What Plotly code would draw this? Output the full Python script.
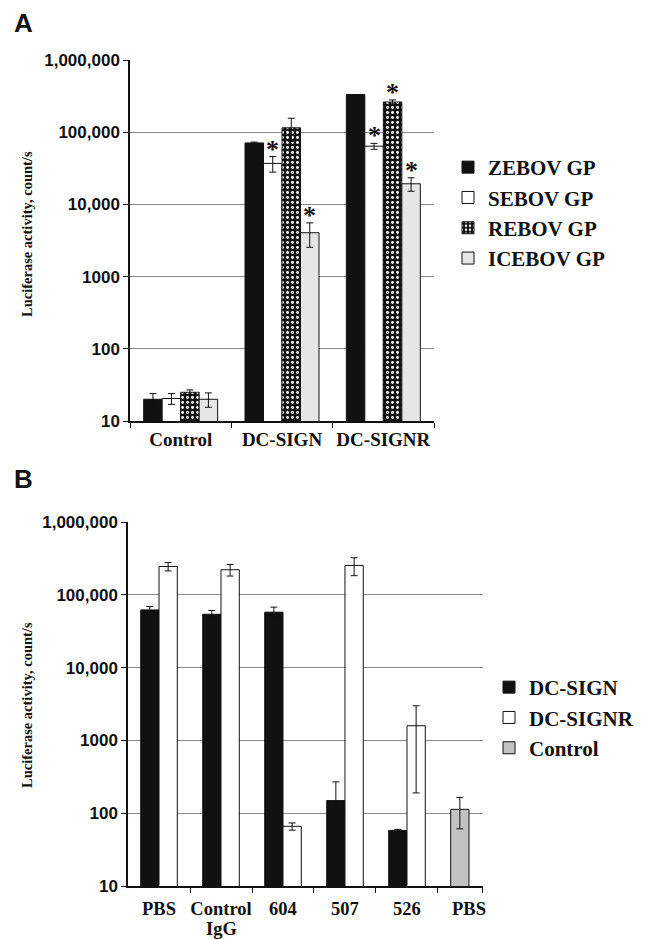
import math
import plotly.graph_objects as go

W, H = 646, 939

# ---------------- Panel A data ----------------
a_categories = ["Control", "DC-SIGN", "DC-SIGNR"]
a_series = ["ZEBOV GP", "SEBOV GP", "REBOV GP", "ICEBOV GP"]
zebov = [20, 71000, 332000]
zebov_err = [4, 2000, 0]
sebov = [20.5, 37000, 64000]
sebov_err = [3.5, 9000, 6000]
rebov = [25, 115000, 262000]
rebov_err = [2, 41000, 18000]
icebov = [20, 4050, 19300]
icebov_err = [4.5, 1500, 4100]
# significance flags (series x category)
a_sig = [
    [False, False, False],
    [False, True, True],
    [False, False, True],
    [False, True, True],
]

# ---------------- Panel B data ----------------
b_categories = ["PBS", "Control\nIgG", "604", "507", "526", "PBS"]
b_series = ["DC-SIGN", "DC-SIGNR", "Control"]
dcsign = [62000, 54000, 57700, 149, 58]
dcsign_err = [7000, 7000, 10000, 120, 2]
dcsignr = [245000, 221000, 66, 253000, 1590]
dcsignr_err = [32000, 40000, 7.5, 70000, 1400]
control = [113]
control_err = [52]

y_tickvals = [10, 100, 1000, 10000, 100000, 1000000]
y_ticktext = ["10", "100", "1000", "10,000", "100,000", "1,000,000"]

SERIF = "Liberation Serif"
SANS = "Liberation Sans"
LINE = "#111111"
GRID = "#8a8a8a"


def px_x(p):
    return p / W


def px_y(p):
    return 1 - p / H


fig = go.Figure()

err_style = dict(type="data", color=LINE, thickness=1, width=3.5)

a_vals = [zebov, sebov, rebov, icebov]
a_errs = [zebov_err, sebov_err, rebov_err, icebov_err]
a_markers = [
    dict(color="#111111", line=dict(color=LINE, width=1)),
    dict(color="#ffffff", line=dict(color=LINE, width=1)),
    dict(color="#111111", line=dict(color=LINE, width=1),
         pattern=dict(shape=".", fgcolor="#ffffff", bgcolor="#111111",
                      size=5, solidity=0.28, fillmode="replace")),
    dict(color="#e6e6e6", line=dict(color=LINE, width=1)),
]
for name, vals, errs, mk in zip(a_series, a_vals, a_errs, a_markers):
    fig.add_trace(go.Bar(
        x=a_categories, y=vals, name=name, marker=mk,
        error_y=dict(array=errs, **err_style),
        xaxis="x", yaxis="y", legend="legend",
    ))

b_colors = ["#111111", "#ffffff", "#c2c2c2"]
b_x_sign = list(range(len(dcsign)))
b_x_ctrl = [len(b_categories) - 1]
fig.add_trace(go.Bar(
    x=b_x_sign, y=dcsign, name="DC-SIGN",
    marker=dict(color=b_colors[0], line=dict(color=LINE, width=1)),
    error_y=dict(array=dcsign_err, **err_style),
    offset=-0.295, width=0.295, xaxis="x2", yaxis="y2", legend="legend2",
))
fig.add_trace(go.Bar(
    x=b_x_sign, y=dcsignr, name="DC-SIGNR",
    marker=dict(color=b_colors[1], line=dict(color=LINE, width=1)),
    error_y=dict(array=dcsignr_err, **err_style),
    offset=0, width=0.295, xaxis="x2", yaxis="y2", legend="legend2",
))
fig.add_trace(go.Bar(
    x=b_x_ctrl, y=control, name="Control",
    marker=dict(color=b_colors[2], line=dict(color=LINE, width=1)),
    error_y=dict(array=control_err, **err_style),
    offset=-0.295, width=0.295, xaxis="x2", yaxis="y2", legend="legend2",
))

yaxis_common = dict(
    type="log", range=[1, 6], tickvals=y_tickvals, ticktext=y_ticktext,
    tickfont=dict(family=SANS, size=17, color=LINE, weight="bold"),
    showline=True, linecolor=LINE, linewidth=1.5, ticks="outside",
    ticklen=5, tickcolor=LINE, showgrid=True, gridcolor=GRID, gridwidth=1,
    zeroline=False, fixedrange=True, automargin=False,
)

# first line of each B label goes on the axis, second line (if any) below it
b_first = [c.split("\n")[0] for c in b_categories]
b_second = [(i, c.split("\n")[1]) for i, c in enumerate(b_categories) if "\n" in c]

bargap = 0.27
fig.update_layout(
    width=W, height=H, margin=dict(l=0, r=0, t=0, b=0, autoexpand=False),
    paper_bgcolor="white", plot_bgcolor="white",
    barmode="group", bargap=bargap, bargroupgap=0,
    xaxis=dict(domain=[px_x(130), px_x(434)], anchor="y", type="category",
               tickson="boundaries", ticks="outside", ticklen=5, tickcolor=LINE,
               showline=True, linecolor=LINE, linewidth=1.5, tickangle=0,
               automargin=False, fixedrange=True,
               tickfont=dict(family=SERIF, size=19, color=LINE, weight="bold"),
               range=[-0.5, 2.5]),
    yaxis=dict(domain=[px_y(421), px_y(60)], anchor="x", **yaxis_common),
    xaxis2=dict(domain=[px_x(128), px_x(483)], anchor="y2",
                range=[-0.5, 5.226], tickmode="array",
                tickvals=list(range(len(b_categories))), ticktext=b_first,
                ticks="", showline=True, linecolor=LINE, linewidth=1.5,
                showgrid=False, zeroline=False, tickangle=0, automargin=False,
                ticklabelstandoff=5, fixedrange=True,
                minor=dict(tickmode="array", tickvals=[0.5, 1.5, 2.5, 3.5, 4.5, 5.22],
                           ticks="outside", ticklen=5, tickcolor=LINE, showgrid=False),
                tickfont=dict(family=SERIF, size=18.5, color=LINE, weight="bold")),
    yaxis2=dict(domain=[px_y(886), px_y(522)], anchor="x2", **yaxis_common),
    legend=dict(x=px_x(448), y=px_y(147), xanchor="left", yanchor="top",
                font=dict(family=SERIF, size=21, color=LINE, weight="bold"),
                bgcolor="rgba(0,0,0,0)", tracegroupgap=0),
    legend2=dict(x=px_x(489), y=px_y(667), xanchor="left", yanchor="top",
                 font=dict(family=SERIF, size=21, color=LINE, weight="bold"),
                 bgcolor="rgba(0,0,0,0)", tracegroupgap=0),
    showlegend=True,
)

annotations = []
# panel letters
annotations.append(dict(text="<b>A</b>", x=px_x(12), y=px_y(6), xref="paper", yref="paper",
                        xanchor="left", yanchor="top", showarrow=False,
                        font=dict(family=SANS, size=26, color=LINE)))
annotations.append(dict(text="<b>B</b>", x=px_x(12), y=px_y(462), xref="paper", yref="paper",
                        xanchor="left", yanchor="top", showarrow=False,
                        font=dict(family=SANS, size=26, color=LINE)))
# y titles
for yc in (234, 705):
    annotations.append(dict(text="<b>Luciferase activity, count/s</b>", x=px_x(27), y=px_y(yc),
                            xref="paper", yref="paper", textangle=-90, showarrow=False,
                            xanchor="center", yanchor="middle",
                            font=dict(family=SERIF, size=14.5, color=LINE)))
# second line of two-line B category labels
for i, txt in b_second:
    annotations.append(dict(text=f"<b>{txt}</b>", x=i, y=px_y(929), xref="x2", yref="paper",
                            xanchor="center", yanchor="middle", showarrow=False,
                            borderpad=0,
                            font=dict(family=SERIF, size=18.5, color=LINE)))
# significance asterisks
group_w = 1 - bargap
bar_w = group_w / len(a_series)
for si, (vals, errs) in enumerate(zip(a_vals, a_errs)):
    for ci, flag in enumerate(a_sig[si]):
        if not flag:
            continue
        xpos = ci - group_w / 2 + bar_w * (si + 0.5)
        top = vals[ci] + errs[ci]
        annotations.append(dict(text="<b>*</b>", x=xpos, y=math.log10(top), xref="x", yref="y",
                                xanchor="center", yanchor="bottom", yshift=-9, showarrow=False,
                                font=dict(family=SERIF, size=26, color=LINE)))
fig.update_layout(annotations=annotations)

fig.write_html("out.html", config={"displayModeBar": False},
               post_script="document.body.style.margin='0';document.body.style.overflow='hidden';")
